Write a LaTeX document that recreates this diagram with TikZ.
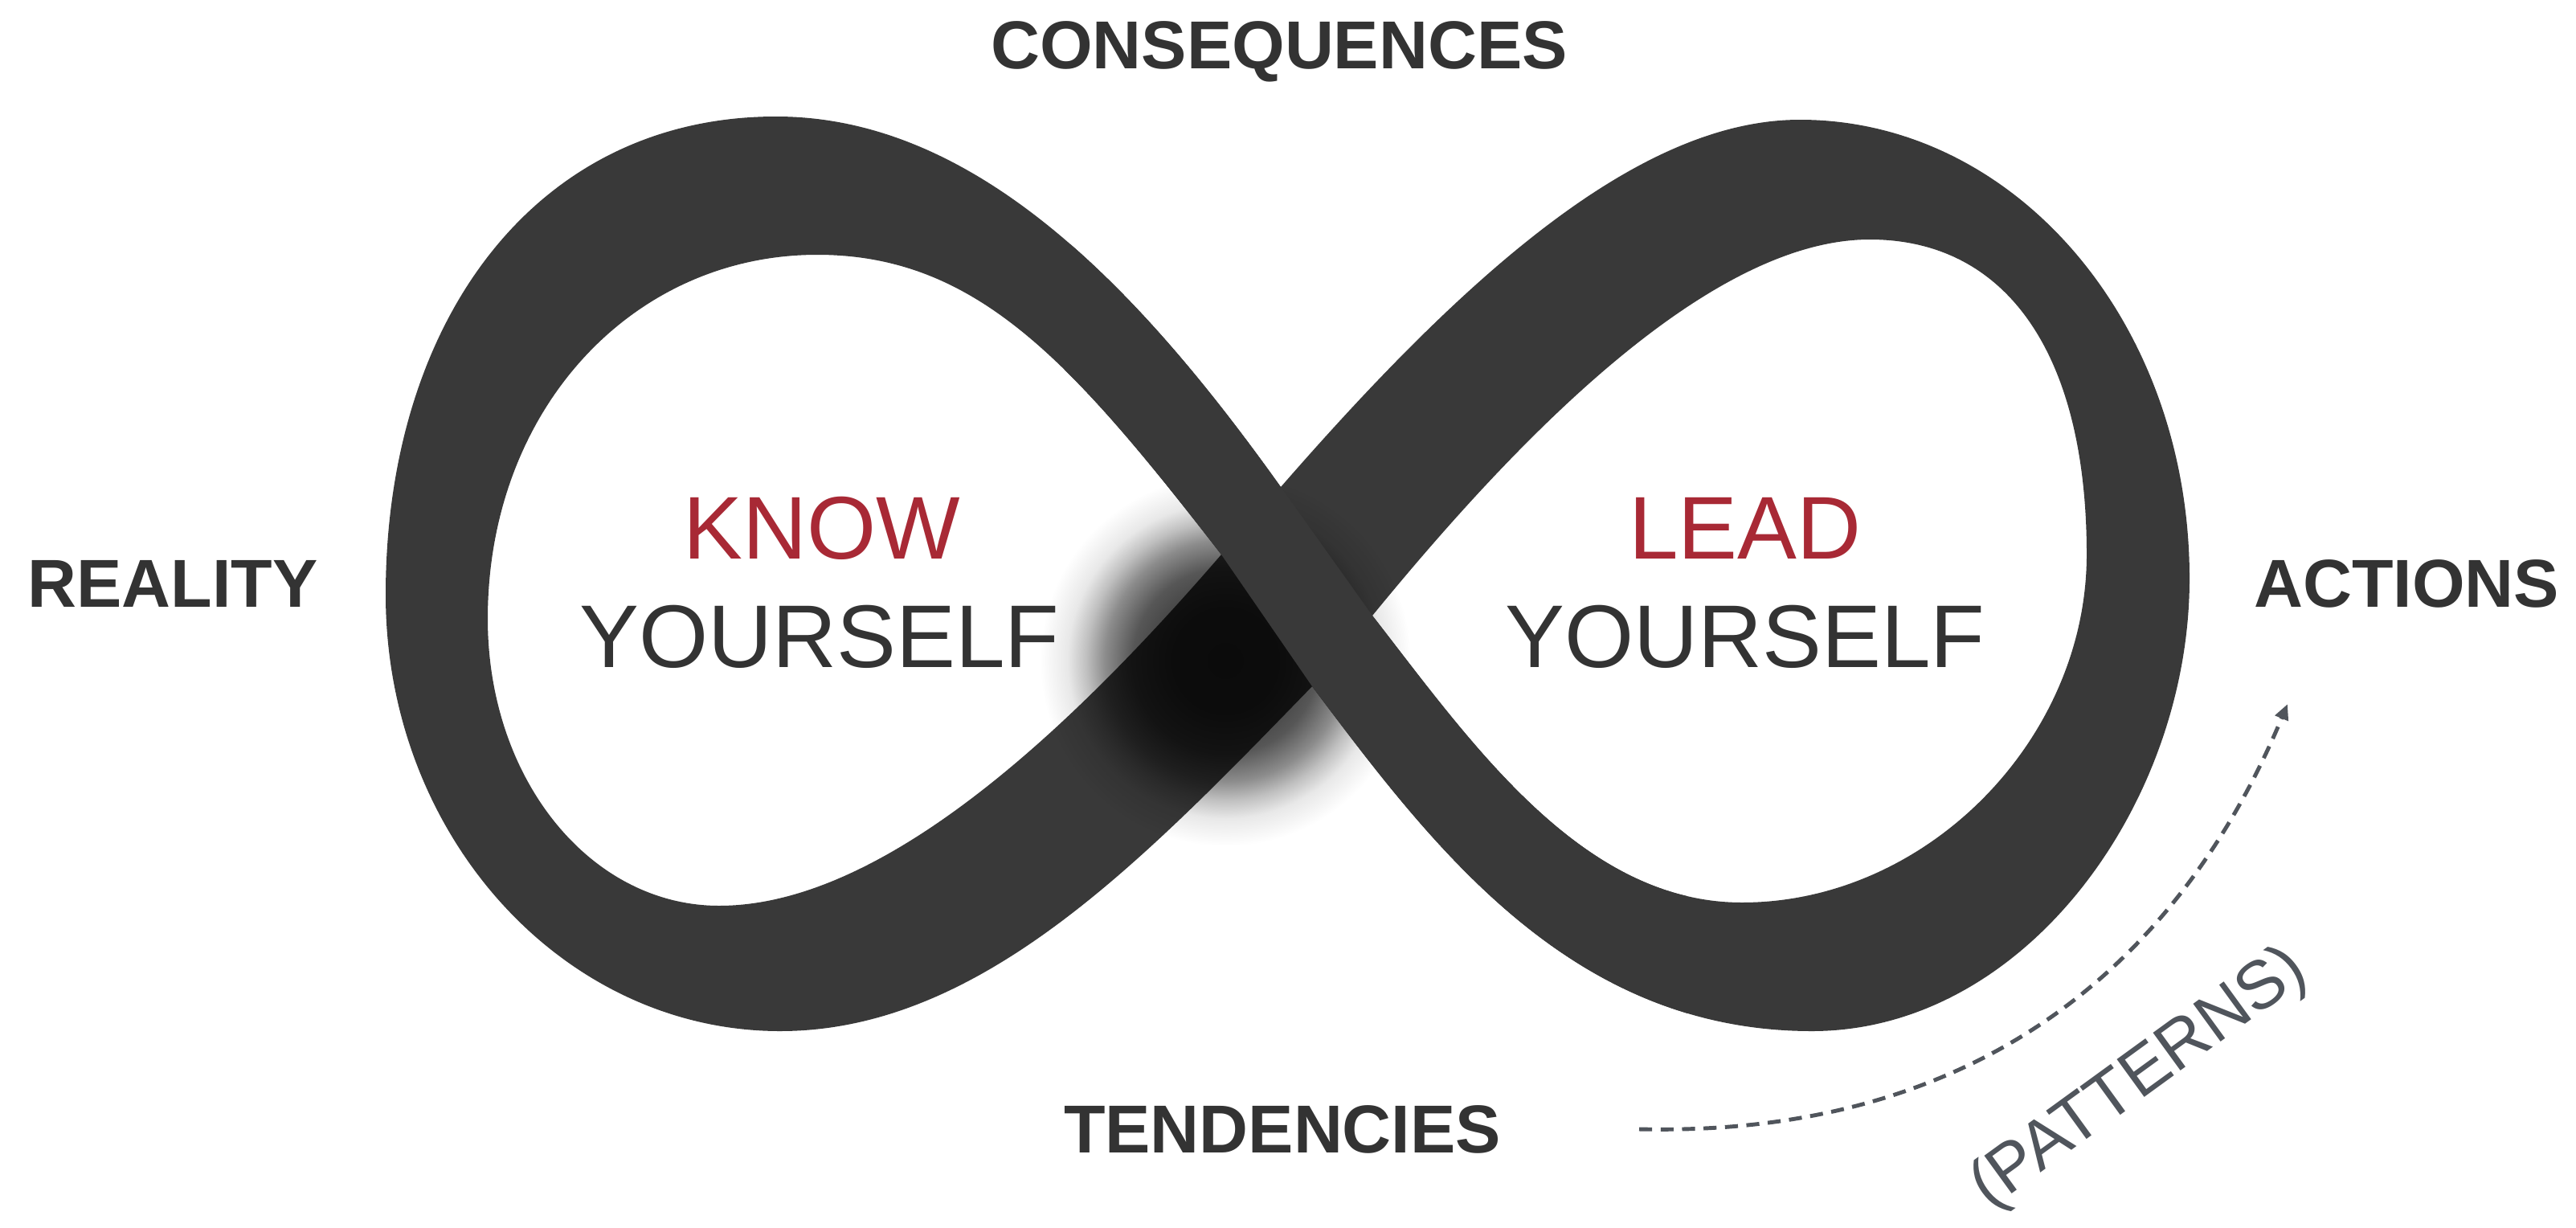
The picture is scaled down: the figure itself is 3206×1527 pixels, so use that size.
\documentclass[tikz,border=0pt]{standalone}
\usepackage{fontspec}
\setmainfont{Liberation Sans}
\usetikzlibrary{arrows.meta,fadings}
\definecolor{band}{HTML}{393939}
\definecolor{labelc}{HTML}{333333}
\definecolor{redc}{HTML}{A82935}
\definecolor{grayc}{HTML}{50555C}
\pgfdeclareradialshading{shadowshade}{\pgfpointorigin}{color(0bp)=(white!80!black); color(7.5bp)=(white!77!black); color(12.5bp)=(white!66!black); color(16.25bp)=(white!45!black); color(18.75bp)=(white!25!black); color(21.25bp)=(white!9!black); color(25bp)=(black); color(50bp)=(black)}
\pgfdeclarefading{shadowfade}{\pgfuseshading{shadowshade}}
\def\bandpath{(1594,606) .. controls (1824,342) and (2040,149) .. (2240,149)
 .. controls (2507,149) and (2725,400) .. (2725,720)
 .. controls (2725,1000) and (2520,1283) .. (2255,1283)
 .. controls (1955,1283) and (1783,1054) .. (1633,854)
 .. controls (1424,1069) and (1221,1283) .. (971,1283)
 .. controls (701,1283) and (480,1040) .. (480,740)
 .. controls (480,400) and (666,145) .. (966,145)
 .. controls (1216,145) and (1420,362) .. (1594,606) -- cycle
 (1520,690) .. controls (1336,453) and (1217,317) .. (1017,317)
 .. controls (787,317) and (607,510) .. (607,770)
 .. controls (607,970) and (735,1127) .. (895,1127)
 .. controls (1095,1127) and (1324,917) .. (1520,690) -- cycle
 (1708,766) .. controls (1867,572) and (2117,298) .. (2327,298)
 .. controls (2497,298) and (2597,440) .. (2597,690)
 .. controls (2597,920) and (2398,1123) .. (2168,1123)
 .. controls (1968,1123) and (1831,924) .. (1708,766) -- cycle}
\begin{document}
\begin{tikzpicture}[x=0.01cm, y=-0.01cm,
  lbl/.style={anchor=base, text=labelc, font=\fontsize{24}{28}\selectfont\bfseries},
  big/.style={anchor=base, font=\fontsize{31.5}{36}\selectfont},
  bandfill/.style={fill=band},
  patarrow/.style={draw=grayc, line width=1.4pt, dash pattern=on 4.6pt off 3pt, -{Triangle[length=5.5pt,width=4.8pt]}}
]
\useasboundingbox (0,0) rectangle (3206,1527);

% the band: outer outline minus the two holes
\fill[bandfill, even odd rule] \bandpath;

% shadow under the crossing
\fill[black, path fading=shadowfade] (1295,592) rectangle (1755,1052);

% the strand that passes over, drawn again on top of the shadow
\begin{scope}[even odd rule]
\clip \bandpath;
\fill[bandfill] (1594,606) -- (1708,766) -- (1950,880) -- (2100,1000) -- (2100,1400) -- (1700,1100) -- (1633,854) -- (1520,690) -- (1350,520) -- (1300,400) -- (1350,250) -- (1550,450) -- cycle;
\end{scope}

% labels
\node[lbl] (cons) at (1592,85) {CONSEQUENCES};
\node[lbl] (real) at (215,755) {REALITY};
\node[lbl] (act) at (2995,755) {ACTIONS};
\node[lbl] (tend) at (1596,1434) {TENDENCIES};

\node[big, text=redc] (know) at (1023,695) {KNOW};
\node[big, text=labelc] (ys1) at (1020,830) {YOURSELF};
\node[big, text=redc] (lead) at (2172,695) {LEAD};
\node[big, text=labelc] (ys2) at (2172,830) {YOURSELF};

\node[rotate=36, text=grayc, font=\fontsize{24}{28}\selectfont] (pat) at (2663,1343) {(PATTERNS)};

\coordinate (pstart) at (2040,1405);
\coordinate (pend) at (2847,876);
\draw[patarrow] (pstart) .. controls (2480,1415) and (2720,1180) .. (pend);
\end{tikzpicture}
\end{document}
